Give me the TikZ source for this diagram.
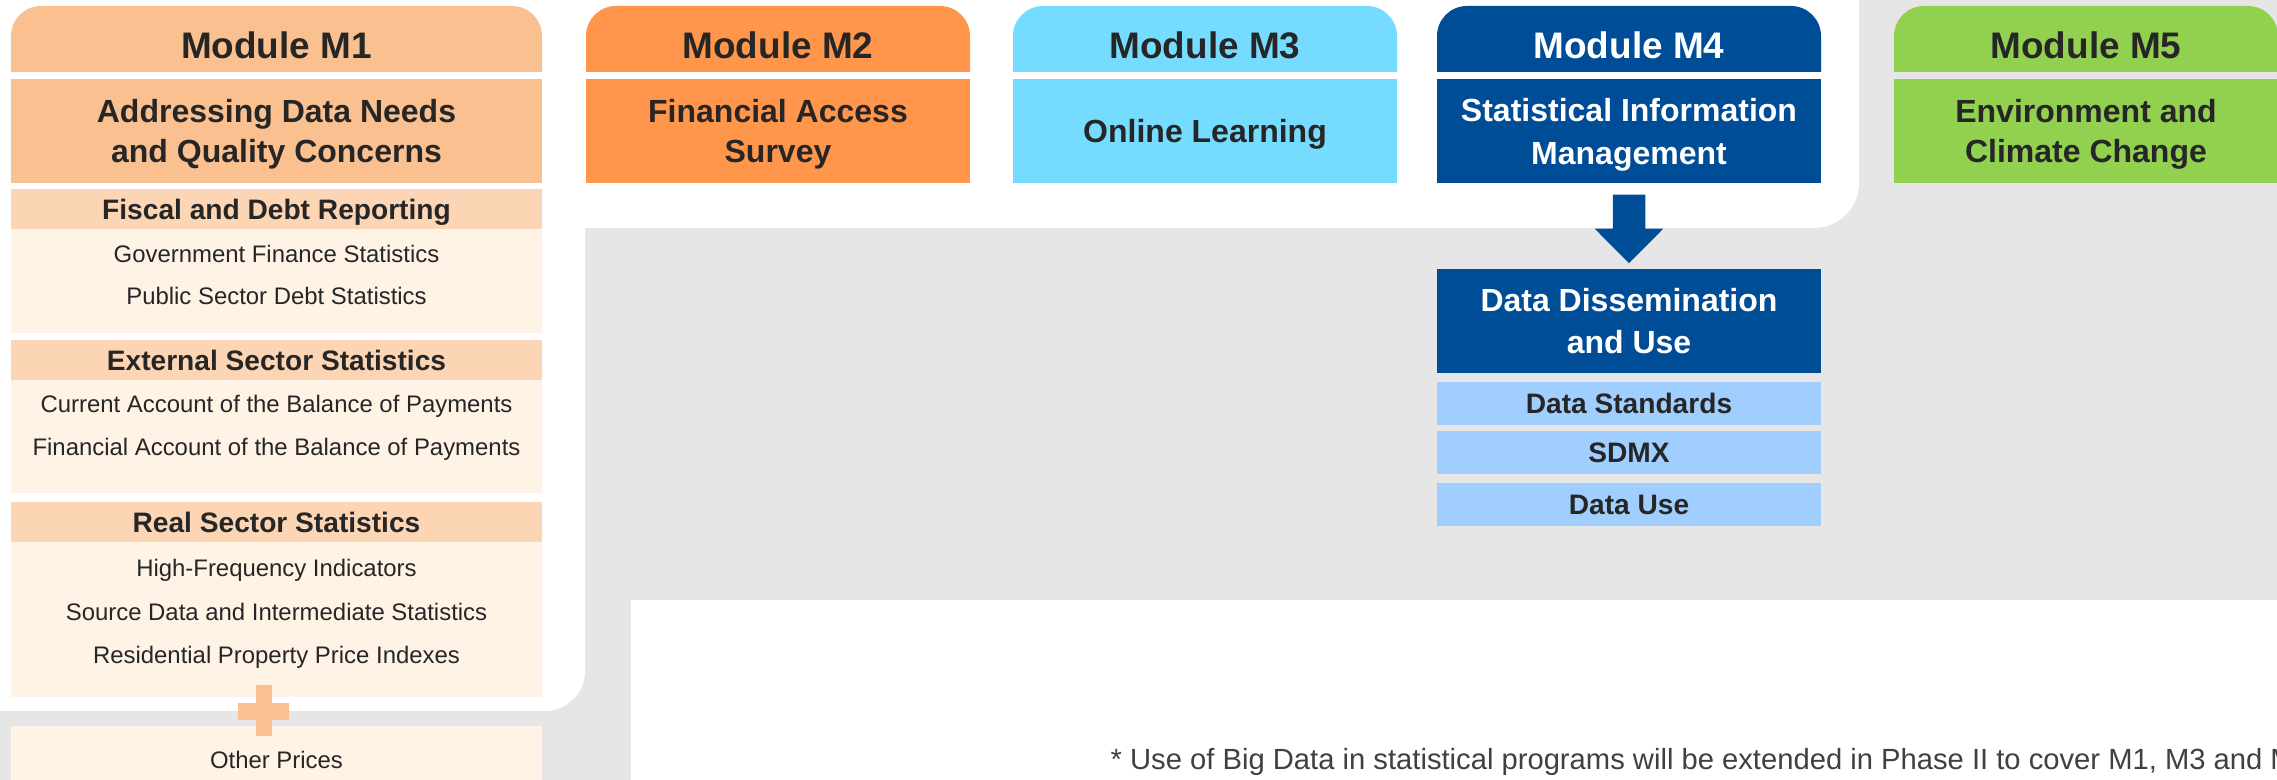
\documentclass[tikz,border=0pt]{standalone}
\usepackage{fontspec}
\setmainfont{Liberation Sans}
\usepackage{tikz}
\usetikzlibrary{calc}
\usepackage{xcolor}

\definecolor{bggrey}{RGB}{230,230,230}
\definecolor{txtdark}{RGB}{38,38,38}
\definecolor{notegrey}{RGB}{64,64,64}
\definecolor{mOne}{RGB}{250,192,144}
\definecolor{mOneHead}{RGB}{252,213,180}
\definecolor{mOneBody}{RGB}{254,243,229}
\definecolor{mTwo}{RGB}{255,150,75}
\definecolor{mThree}{RGB}{117,219,255}
\definecolor{mFour}{RGB}{0,77,151}
\definecolor{mFourSub}{RGB}{160,207,255}
\definecolor{mFive}{RGB}{146,208,80}

\begin{document}
\begin{tikzpicture}[x=0.01cm, y=-0.01cm,
    box/.style={inner sep=0pt, align=center, text depth=0pt, text=txtdark},
    modfont/.style={font=\fontsize{10.5}{12}\selectfont\bfseries},
    titlefont/.style={font=\fontsize{9.1}{11.2}\selectfont\bfseries},
    subfont/.style={font=\fontsize{8}{9.6}\selectfont\bfseries},
    itemfont/.style={font=\fontsize{6.8}{8}\selectfont, anchor=base},
    wide/.style={minimum width=5.31cm},
    narrow/.style={minimum width=3.84cm}]

    % 1. Background: grey canvas with the white panels on top
    \useasboundingbox (0,0) rectangle (2277,780);
    \clip (0,0) rectangle (2277,780);
    \fill[bggrey] (0,0) rectangle (2277,780);
    \fill[white, rounded corners=0.45cm] (-60,-60) rectangle (1859,228);
    \fill[white, rounded corners=0.4cm] (-60,-60) rectangle (585,711);
    \fill[white] (631,600) rectangle (2400,900);

    % 2. Module M1 column
    \fill[mOne, rounded corners=0.3cm] (11,72) -- (11,6) -- (542,6) -- (542,72);
    \node[box, modfont] (m1) at (276.5,45) {Module M1};
    \node[box, titlefont, wide, minimum height=1.04cm, fill=mOne] (m1sub) at (276.5,131) {Addressing Data Needs\\and Quality Concerns};

    % Fiscal block
    \node[box, subfont, wide, minimum height=0.4cm, fill=mOneHead] (fiscal) at (276.5,209) {Fiscal and Debt Reporting};
    \node[box, wide, minimum height=1.04cm, fill=mOneBody] (fiscalbody) at (276.5,281) {};
    \node[box, itemfont] (gfs) at (276.5,263) {Government Finance Statistics};
    \node[box, itemfont] (psds) at (276.5,305) {Public Sector Debt Statistics};

    % External block
    \node[box, subfont, wide, minimum height=0.4cm, fill=mOneHead] (external) at (276.5,360) {External Sector Statistics};
    \node[box, wide, minimum height=1.13cm, fill=mOneBody] (extbody) at (276.5,436.5) {};
    \node[box, itemfont] (cabop) at (276.5,413) {Current Account of the Balance of Payments};
    \node[box, itemfont] (fabop) at (276.5,456) {Financial Account of the Balance of Payments};

    % Real block
    \node[box, subfont, wide, minimum height=0.4cm, fill=mOneHead] (real) at (276.5,522) {Real Sector Statistics};
    \node[box, wide, minimum height=1.55cm, fill=mOneBody] (realbody) at (276.5,619.5) {};
    \node[box, itemfont] (hfi) at (276.5,577) {High-Frequency Indicators};
    \node[box, itemfont] (sdis) at (276.5,620.7) {Source Data and Intermediate Statistics};
    \node[box, itemfont] (rppi) at (276.5,664) {Residential Property Price Indexes};

    % Other prices, joined by the plus sign
    \node[box, wide, minimum height=0.74cm, fill=mOneBody] (otherbox) at (276.5,763) {};
    \node[box, itemfont] (oprices) at (276.5,769) {Other Prices};
    \fill[mOne] (256,685) rectangle (272,736);
    \fill[mOne] (238,703) rectangle (289,720);

    % 3. Modules M2, M3 and M5
    \fill[mTwo, rounded corners=0.3cm] (586,72) -- (586,6) -- (970,6) -- (970,72);
    \node[box, modfont] (m2) at (778,45) {Module M2};
    \node[box, titlefont, narrow, minimum height=1.04cm, fill=mTwo] (m2sub) at (778,131) {Financial Access\\Survey};

    \fill[mThree, rounded corners=0.3cm] (1013,72) -- (1013,6) -- (1397,6) -- (1397,72);
    \node[box, modfont] (m3) at (1205,45) {Module M3};
    \node[box, titlefont, narrow, minimum height=1.04cm, fill=mThree] (m3sub) at (1205,131) {Online Learning};

    \fill[mFive, rounded corners=0.3cm] (1894,72) -- (1894,6) -- (2278,6) -- (2278,72);
    \node[box, modfont] (m5) at (2086,45) {Module M5};
    \node[box, titlefont, narrow, minimum height=1.04cm, fill=mFive] (m5sub) at (2086,131) {Environment and\\Climate Change};

    % 4. Module M4 and the dissemination block under it
    \fill[mFour, rounded corners=0.3cm] (1437,72) -- (1437,6) -- (1821,6) -- (1821,72);
    \node[box, modfont, text=white] (m4) at (1629,45) {Module M4};
    \node[box, font=\fontsize{9.1}{12.2}\selectfont\bfseries, narrow, minimum height=1.04cm, fill=mFour, text=white] (m4sub) at (1629,131) {Statistical Information\\Management};

    \node[box, font=\fontsize{9.1}{12.1}\selectfont\bfseries, narrow, minimum height=1.035cm, fill=mFour, text=white] (dissem) at (1629,320.75) {Data Dissemination\\and Use};
    \fill[mFour] ($(m4sub.south)+(-16.25,11)$) -- ++(32.5,0) -- ++(0,34) -- ++(18,0) -- ++(-34.25,34.5) -- ++(-34.25,-34.5) -- ++(18,0) -- cycle;

    \node[box, subfont, narrow, minimum height=0.43cm, fill=mFourSub] (dstd) at (1629,403.5) {Data Standards};
    \node[box, subfont, narrow, minimum height=0.43cm, fill=mFourSub] (sdmx) at (1629,452.5) {SDMX};
    \node[box, subfont, narrow, minimum height=0.43cm, fill=mFourSub] (duse) at (1629,504.5) {Data Use};

    % 5. Footnote (runs off the right edge)
    \node[anchor=base west, inner sep=0pt, font=\fontsize{8.3}{10}\selectfont, text=notegrey] (note) at (1110,770) {* Use of Big Data in statistical programs will be extended in Phase II to cover M1, M3 and M5};

\end{tikzpicture}
\end{document}
